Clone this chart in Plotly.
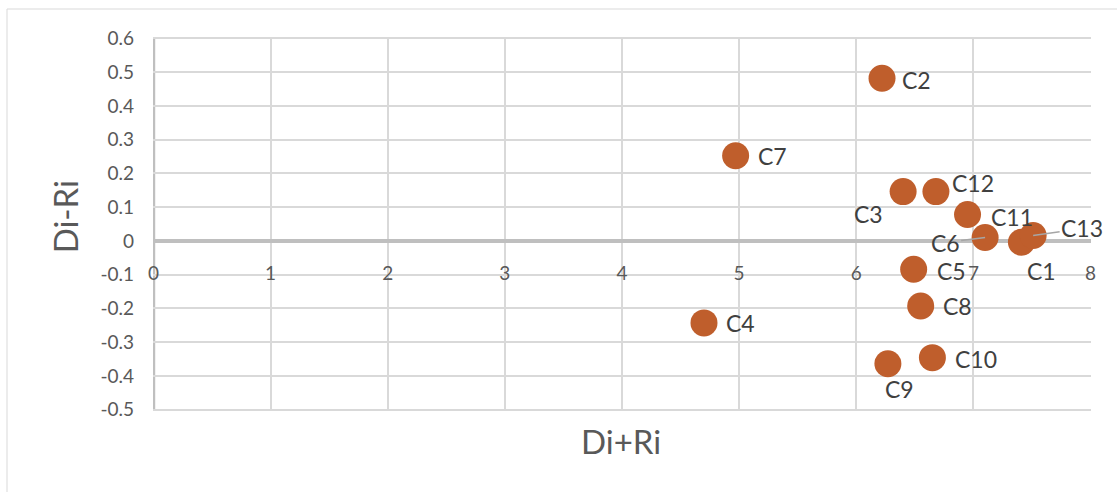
import plotly.graph_objects as go

# Criteria scores: Di+Ri (prominence) vs Di-Ri (relation)
labels = ["C1", "C2", "C3", "C4", "C5", "C6", "C7", "C8", "C9", "C10", "C11", "C12", "C13"]
d_plus_r = [7.41, 6.22, 6.40, 4.70, 6.49, 7.10, 4.97, 6.55, 6.27, 6.65, 6.95, 6.68, 7.51]
d_minus_r = [-0.004, 0.482, 0.146, -0.243, -0.084, 0.010, 0.252, -0.193, -0.364, -0.346, 0.078, 0.146, 0.016]

x_ticks = [0, 1, 2, 3, 4, 5, 6, 7, 8]
y_ticks = [0.6, 0.5, 0.4, 0.3, 0.2, 0.1, 0, -0.1, -0.2, -0.3, -0.4, -0.5]
y_tick_text = ["0.6", "0.5", "0.4", "0.3", "0.2", "0.1", "0", "-0.1", "-0.2", "-0.3", "-0.4", "-0.5"]

MARKER = "#BF5E2C"
GRID = "#D9D9D9"
AXIS = "#BFBFBF"
TICK_TXT = "#595959"
LABEL_TXT = "#404040"
FONT = "Lato"

# label placement per point: (xanchor, xshift, yshift, leader)
label_style = {
    "C1": ("center", 20, -29, None),
    "C2": ("left", 18, -2, None),
    "C3": ("right", -18, -22, None),
    "C4": ("left", 20, 0, None),
    "C5": ("left", 21, -2, None),
    "C6": ("center", 0, 0, (-40, 5)),
    "C7": ("left", 20, 0, None),
    "C8": ("left", 20, 0, None),
    "C9": ("center", 12, -25, None),
    "C10": ("left", 21, -1, None),
    "C11": ("left", 21, -2, None),
    "C12": ("left", 14, 9, None),
    "C13": ("center", 0, 0, (49, -7)),
}

fig = go.Figure()
fig.add_trace(go.Scatter(
    x=d_plus_r, y=d_minus_r, mode="markers",
    marker=dict(size=27, color=MARKER, line=dict(width=0)),
    hoverinfo="skip", showlegend=False,
))

annotations = []
for name, xv, yv in zip(labels, d_plus_r, d_minus_r):
    anchor, dx, dy, leader = label_style[name]
    a = dict(x=xv, y=yv, xref="x", yref="y", text=name,
             font=dict(family=FONT, size=23, color=LABEL_TXT))
    if leader is None:
        a.update(showarrow=False, xanchor=anchor, yanchor="middle", xshift=dx, yshift=dy)
    else:
        a.update(showarrow=True, ax=leader[0], ay=leader[1], axref="pixel", ayref="pixel",
                 arrowhead=0, arrowwidth=1.5, arrowcolor="#A6A6A6", standoff=0)
    annotations.append(a)

annotations.append(dict(x=0.499, y=-0.08, xref="paper", yref="paper", text="Di+Ri",
                        showarrow=False, xanchor="center", yanchor="middle",
                        font=dict(family=FONT, size=33, color=TICK_TXT)))
annotations.append(dict(x=-0.094, y=0.52, xref="paper", yref="paper", text="Di-Ri",
                        showarrow=False, textangle=-90, xanchor="center", yanchor="middle",
                        font=dict(family=FONT, size=33, color=TICK_TXT)))

fig.update_layout(
    width=1117, height=492,
    margin=dict(l=153, r=26, t=37, b=81),
    paper_bgcolor="white", plot_bgcolor="white",
    font=dict(family=FONT, color=TICK_TXT),
    annotations=annotations,
    shapes=[dict(type="rect", xref="paper", yref="paper",
                 x0=-146 / 938, x1=1.05, y0=-0.3, y1=1 + 28 / 374,
                 line=dict(color="#D9D9D9", width=1), layer="below")],
    xaxis=dict(
        range=[-0.004, 8.004], tickvals=x_ticks, ticktext=[str(v) for v in x_ticks],
        showgrid=True, gridcolor=GRID, gridwidth=1.6,
        zeroline=False, showline=False,
        anchor="free", position=0.5 / 1.1, side="bottom",
        ticks="", ticklabelstandoff=19,
        tickfont=dict(family=FONT, size=19, color=TICK_TXT),
    ),
    yaxis=dict(
        range=[-0.504, 0.604], tickvals=y_ticks, ticktext=y_tick_text,
        showgrid=True, gridcolor=GRID, gridwidth=1.6,
        zeroline=True, zerolinecolor=AXIS, zerolinewidth=3.5,
        showline=False,
        ticks="", ticklabelstandoff=18,
        tickfont=dict(family=FONT, size=19, color=TICK_TXT),
    ),
)

# the vertical axis line at Di+Ri = 0
fig.add_vline(x=0, line=dict(color=AXIS, width=3.5), layer="below")

fig.write_html("out.html")
